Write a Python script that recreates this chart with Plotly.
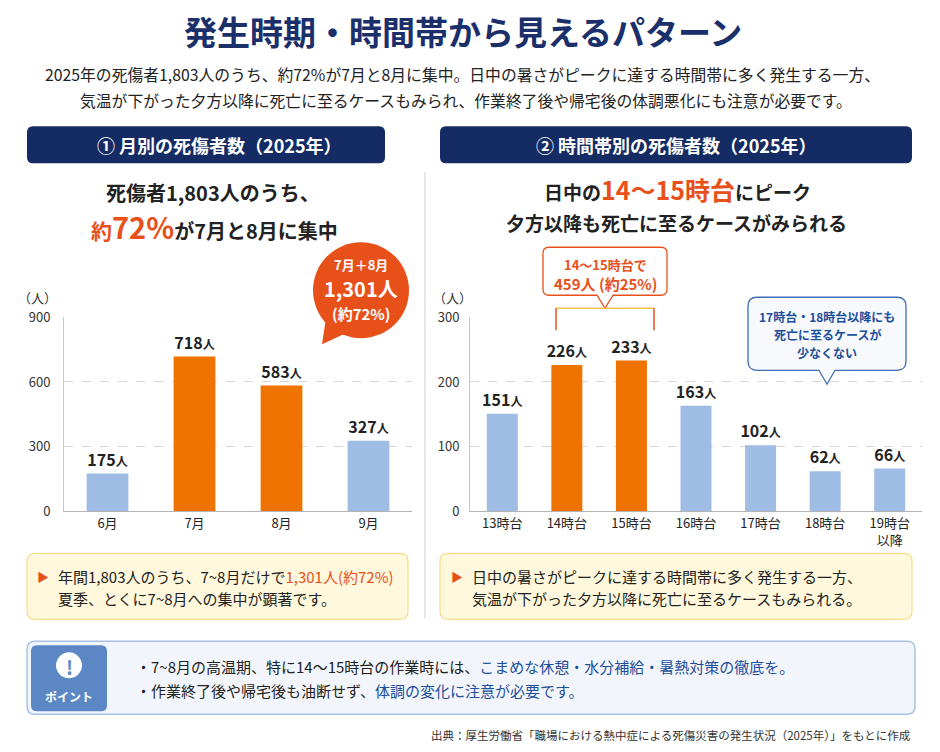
import plotly.graph_objects as go
from plotly.subplots import make_subplots

# page has an 8px body margin, so the figure is drawn 16px smaller and offset
PAGE_W, PAGE_H, M = 940, 752, 8
W, H = PAGE_W - 2 * M, PAGE_H - 2 * M
# vertical correction measured from earlier renders
YS, YO = 0.974, 10
FONT = "Noto Sans CJK JP, Noto Sans, sans-serif"
NAVY = "#142c63"
ORANGE = "#ef7300"
RED_OR = "#e8501a"
BLUE = "#9fbde4"
TXT_BLUE = "#1d4f9c"

# data
months = ["6月", "7月", "8月", "9月"]
month_counts = [175, 718, 583, 327]
peak_months = ["7月", "8月"]

hours = ["13時台", "14時台", "15時台", "16時台", "17時台", "18時台", "19時台<br>以降"]
hour_counts = [151, 226, 233, 163, 102, 62, 66]
peak_hours = ["14時台", "15時台"]

month_ticks = [0, 300, 600, 900]
hour_ticks = [0, 100, 200, 300]


def px(x, y):
    # target pixel -> paper coords
    yy = (y - YO) / YS
    return (x - M) / W, 1 - (yy - M) / H


def pt(x, y):
    a, b = px(x, y)
    return f"{a:.5f},{b:.5f}"


def rounded(x0, y0, x1, y1, r, tail=None):
    # rounded box in pixel coords, optional tail on the bottom edge (tip_x, tip_y, half width)
    p = f"M {pt(x0 + r, y0)} L {pt(x1 - r, y0)} Q {pt(x1, y0)} {pt(x1, y0 + r)} "
    p += f"L {pt(x1, y1 - r)} Q {pt(x1, y1)} {pt(x1 - r, y1)} "
    if tail:
        tx, ty, tw = tail
        p += f"L {pt(tx + tw, y1)} L {pt(tx, ty)} L {pt(tx - tw, y1)} "
    p += f"L {pt(x0 + r, y1)} Q {pt(x0, y1)} {pt(x0, y1 - r)} "
    p += f"L {pt(x0, y0 + r)} Q {pt(x0, y0)} {pt(x0 + r, y0)} Z"
    return p


shapes = []
annotations = []


def box(x0, y0, x1, y1, r, fill, line=None, lw=1.2, tail=None, layer="below"):
    shapes.append(dict(type="path", xref="paper", yref="paper", path=rounded(x0, y0, x1, y1, r, tail),
                       fillcolor=fill, line=dict(color=line or fill, width=lw if line else 0), layer=layer))


def seg(x0, y0, x1, y1, color, width=1.5, layer="above"):
    a, b = px(x0, y0)
    c, d = px(x1, y1)
    shapes.append(dict(type="line", xref="paper", yref="paper", x0=a, y0=b, x1=c, y1=d,
                       line=dict(color=color, width=width), layer=layer))


def circle(cx, cy, r, fill):
    a0, b0 = px(cx - r, cy - r)
    a1, b1 = px(cx + r, cy + r)
    shapes.append(dict(type="circle", xref="paper", yref="paper", x0=a0, y0=b1, x1=a1, y1=b0,
                       fillcolor=fill, line=dict(width=0), layer="above"))


def note(x, y, text, size=14, color="#222", xanchor="center"):
    a, b = px(x, y)
    annotations.append(dict(x=a, y=b, xref="paper", yref="paper", text=text, showarrow=False,
                            xanchor=xanchor, yanchor="middle", font=dict(family=FONT, size=size, color=color)))


def bar_labels(vals):
    return [f"<b>{v}<span style='font-size:12px'>人</span></b>" for v in vals]


fig = make_subplots(rows=1, cols=2)

fig.add_trace(go.Bar(
    x=months, y=month_counts,
    marker=dict(color=[ORANGE if m in peak_months else BLUE for m in months], line=dict(width=0)),
    text=bar_labels(month_counts), textposition="outside", cliponaxis=False, constraintext="none",
    textfont=dict(family=FONT, size=16, color="#222"), hoverinfo="skip"), row=1, col=1)

fig.add_trace(go.Bar(
    x=hours, y=hour_counts,
    marker=dict(color=[ORANGE if h in peak_hours else BLUE for h in hours], line=dict(width=0)),
    text=bar_labels(hour_counts), textposition="outside", cliponaxis=False, constraintext="none",
    textfont=dict(family=FONT, size=16, color="#222"), hoverinfo="skip"), row=1, col=2)

ydom = [px(0, 511)[1], px(0, 317)[1]]
fig.update_xaxes(showline=True, linecolor="#b5b5b5", linewidth=1.2, ticks="",
                 tickfont=dict(family=FONT, size=13, color="#222"), fixedrange=True)
fig.update_xaxes(domain=[px(64, 0)[0], px(412, 0)[0]], row=1, col=1)
fig.update_xaxes(domain=[px(470, 0)[0], px(922, 0)[0]], row=1, col=2)
fig.update_yaxes(showline=True, linecolor="#c8c8c8", linewidth=1, showgrid=True, gridcolor="#d6d6d6",
                 griddash="dash", gridwidth=1, zeroline=False, domain=ydom, fixedrange=True,
                 tickfont=dict(family=FONT, size=13, color="#333"))
fig.update_yaxes(range=[0, 900], tickvals=month_ticks, ticklabelstandoff=10, row=1, col=1)
fig.update_yaxes(range=[0, 300], tickvals=hour_ticks, ticklabelstandoff=7, row=1, col=2)

# header section
note(463, 31, "<b>発生時期・時間帯から見えるパターン</b>", 33, "#1b2f6b")
note(462, 74, "2025年の死傷者1,803人のうち、約72%が7月と8月に集中。日中の暑さがピークに達する時間帯に多く発生する一方、", 15.8)
note(466, 100, "気温が下がった夕方以降に死亡に至るケースもみられ、作業終了後や帰宅後の体調悪化にも注意が必要です。", 15.8)

box(27, 126, 385, 163, 6, NAVY)
box(440, 126, 912, 163, 6, NAVY)
note(219, 145, "<b>① 月別の死傷者数（2025年）</b>", 18, "white")
note(676, 145, "<b>② 時間帯別の死傷者数（2025年）</b>", 18, "white")

seg(425, 172, 425, 618, "#d8d8d8", 1.2, layer="below")

# left panel headline
note(213, 192, "<b>死傷者1,803人のうち、</b>", 20)
note(214, 226, f"<b><span style='color:{RED_OR};font-size:21px'>約</span>"
               f"<span style='color:{RED_OR};font-size:29px'>72%</span>が7月と8月に集中</b>", 20)

# right panel headline
note(677, 189, f"<b>日中の<span style='color:{RED_OR};font-size:25px'>14〜15時台</span>にピーク</b>", 19)
note(676, 222, "<b>夕方以降も死亡に至るケースがみられる</b>", 19)

note(38, 297, "（人）", 13, "#333")
note(452, 297, "（人）", 13, "#333")

# orange speech bubble
circle(361, 290, 48, RED_OR)
shapes.append(dict(type="path", xref="paper", yref="paper",
                   path=f"M {pt(326, 318)} L {pt(348, 332)} L {pt(322, 344)} Z",
                   fillcolor=RED_OR, line=dict(width=0), layer="above"))
note(361, 264, "<b>7月＋8月</b>", 13, "white")
note(361, 288, "<b>1,301人</b>", 20, "white")
note(361, 313, "<b>(約72%)</b>", 15, "white")

# 14-15時 callout
box(543, 247, 667, 295, 6, "white", RED_OR, 1.3, tail=(605, 308, 8), layer="above")
note(605, 264, "<b>14〜15時台で</b>", 13, RED_OR)
note(605, 283, "<b>459人 (約25%)</b>", 15, RED_OR)
seg(556, 308, 654, 308, "#f5c04a", 1.5)
seg(556, 308, 556, 330, RED_OR, 1.5)
seg(654, 308, 654, 330, RED_OR, 1.5)

# 17時以降 callout
box(748, 297, 906, 370, 9, "#f7f9fd", "#3f6db5", 1.3, tail=(827, 384, 8), layer="above")
note(827, 316, "<b>17時台・18時台以降にも</b>", 12, TXT_BLUE)
note(827, 334, "<b>死亡に至るケースが</b>", 12, TXT_BLUE)
note(827, 352, "<b>少なくない</b>", 12, TXT_BLUE)

# summary boxes
box(27, 553, 408, 619, 8, "#fff8dc", "#f6dc8f", 1.2)
box(440, 553, 912, 619, 8, "#fff8dc", "#f6dc8f", 1.2)
note(43, 576, "▶", 12, RED_OR)
note(56, 576, f"年間1,803人のうち、7~8月だけで<span style='color:{RED_OR}'>1,301人(約72%)</span>", 15, xanchor="left")
note(56, 598, "夏季、とくに7~8月への集中が顕著です。", 15, xanchor="left")
note(457, 576, "▶", 12, RED_OR)
note(470, 576, "日中の暑さがピークに達する時間帯に多く発生する一方、", 15, xanchor="left")
note(470, 598, "気温が下がった夕方以降に死亡に至るケースもみられる。", 15, xanchor="left")

# point box
box(27, 641, 915, 714, 8, "#f2f6fc", "#a9c2e6", 1.5)
box(31, 645, 107, 711, 6, "#5b87c5")
circle(69, 665, 13, "white")
note(69, 666, "<b>!</b>", 19, "#5b87c5")
note(69, 696, "<b>ポイント</b>", 12, "white")
note(134, 666, f"・7~8月の高温期、特に14～15時台の作業時には、<span style='color:{TXT_BLUE}'>こまめな休憩・水分補給・暑熱対策の徹底を。</span>",
     15, xanchor="left")
note(134, 690, f"・作業終了後や帰宅後も油断せず、<span style='color:{TXT_BLUE}'>体調の変化に注意が必要です。</span>",
     15, xanchor="left")

note(913, 735, "出典：厚生労働省「職場における熱中症による死傷災害の発生状況（2025年）」をもとに作成", 11.5, "#333",
     xanchor="right")

fig.update_layout(
    width=W, height=H, margin=dict(l=0, r=0, t=0, b=0),
    paper_bgcolor="white", plot_bgcolor="white",
    showlegend=False, bargap=0.52,
    font=dict(family=FONT, color="#222"),
    shapes=shapes, annotations=annotations,
)

fig.write_html("out.html")
